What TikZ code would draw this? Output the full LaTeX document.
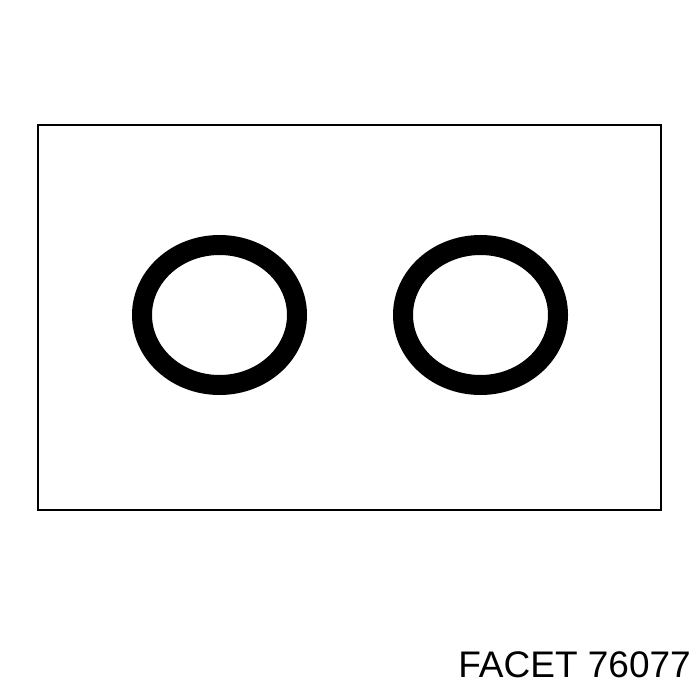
\documentclass[tikz,border=0pt]{standalone}
\usepackage{fontspec}
\setmainfont{Liberation Sans}
\usetikzlibrary{calc}

\begin{document}
\begin{tikzpicture}[x=1pt,y=-1pt]
       \useasboundingbox(0,0)rectangle(700,700);%枠
       \coordinate(RA)at(38,125);%板の左上
       \coordinate(RB)at(661,510);%板の右下
       \draw[line width=2.8pt](RA)rectangle(RB);%板

       \coordinate(L)at(219.5,315);%左リング中心
       \coordinate(R)at(480.5,315);%右リング中心
       \foreach \c in{L,R}
           \draw[line width=20pt](\c)ellipse[x radius=77.5,y radius=70];%リング

       \node[anchor=base east,inner sep=0pt,font=\fontsize{37}{40}\selectfont](label)
           at(691,677){FACET 76077};%品番
\end{tikzpicture}
\end{document}
